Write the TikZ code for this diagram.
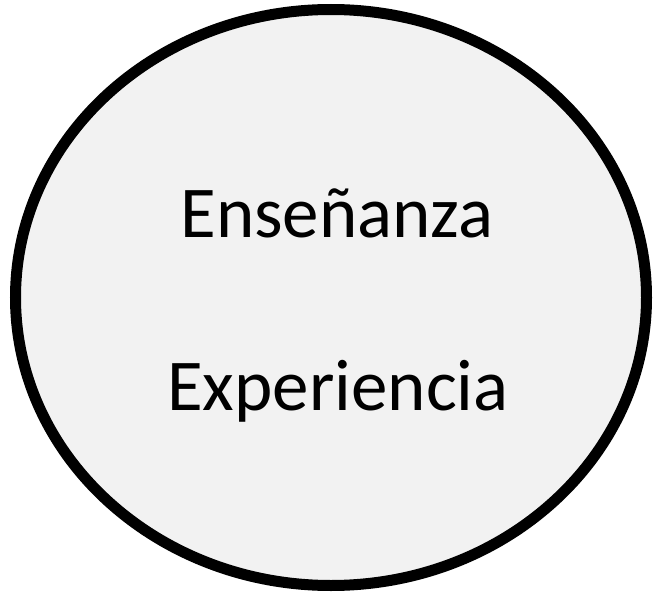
\documentclass[tikz,border=0pt]{standalone}
\usepackage{fontspec}
\setmainfont{Carlito}
\definecolor{ovalfill}{HTML}{F2F2F2}
\tikzset{
  oval/.style={draw=black, line width=11pt, fill=ovalfill},
  label/.style={font=\fontsize{73}{82}\selectfont, anchor=base, inner sep=0pt}
}
\begin{document}
\begin{tikzpicture}[x=1pt,y=-1pt]
\useasboundingbox (0,0) rectangle (654,594);
\draw[oval] (331,297.5) ellipse [x radius=315.5, y radius=288];
\node[label] (ens) at (337,237) {Enseñanza};
\node[label] (exp) at (338,410) {Experiencia};
\end{tikzpicture}
\end{document}
